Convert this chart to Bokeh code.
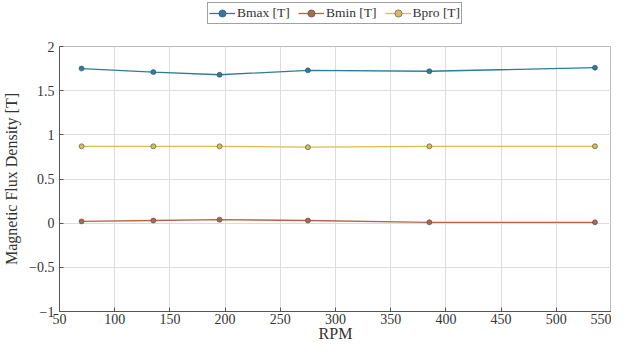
from bokeh.plotting import figure
from bokeh.models import Legend, LegendItem, FixedTicker, Range1d
from bokeh.layouts import column
from bokeh.embed import file_html
from bokeh.resources import INLINE

rpm = [70, 135, 195, 275, 385, 535]
bmax = [1.75, 1.71, 1.68, 1.73, 1.72, 1.76]
bmin = [0.02, 0.03, 0.04, 0.03, 0.01, 0.01]
bpro = [0.87, 0.87, 0.87, 0.86, 0.87, 0.87]
x_ticks = [50, 100, 150, 200, 250, 300, 350, 400, 450, 500, 550]
y_ticks = [-1, -0.5, 0, 0.5, 1, 1.5, 2]
names = ["Bmax [T]", "Bmin [T]", "Bpro [T]"]
colors = ["#2a7d9c", "#b8644a", "#dcbc4c"]

FONT = "Liberation Serif"

# legend strip
lf = figure(width=611, height=26, output_backend="svg", toolbar_location=None,
            x_range=Range1d(0, 1), y_range=Range1d(0, 1),
            x_axis_type=None, y_axis_type=None,
            min_border_left=0, min_border_right=0, min_border_top=0, min_border_bottom=0)
lf.grid.visible = False
lf.outline_line_color = None

p = figure(width=611, height=318, output_backend="svg", toolbar_location=None,
           x_range=Range1d(50, 550), y_range=Range1d(-1, 2),
           min_border_left=14, min_border_right=0, min_border_bottom=0, min_border_top=20)

items = []
for name, ys, c in zip(names, [bmax, bmin, bpro], colors):
    p.line(rpm, ys, line_color=c, line_width=1.3)
    p.scatter(rpm, ys, marker="circle", size=5, fill_color=c, line_color="#3a4a50", line_width=0.6)
    d1 = lf.line([-5, -4], [-5, -5], line_color=c, line_width=1.3)
    d2 = lf.scatter([-5], [-5], marker="circle", size=4, fill_color=c, line_color="#3a4a50", line_width=0.6)
    items.append(LegendItem(label=name, renderers=[d1, d2]))

legend = Legend(items=items, orientation="horizontal", location=(148, 2),
                label_text_font=FONT, label_text_font_size="13.5px", label_text_color="#333333",
                border_line_color="#444444", border_line_width=1.2, padding=1, spacing=8,
                glyph_width=26, glyph_height=18, label_height=18, margin=0,
                label_standoff=2, background_fill_alpha=1)
lf.add_layout(legend)

p.xaxis.ticker = FixedTicker(ticks=x_ticks)
p.yaxis.ticker = FixedTicker(ticks=y_ticks)
p.xaxis.axis_label = "RPM"
p.yaxis.axis_label = "Magnetic Flux Density [T]"
p.axis.axis_label_text_font = FONT
p.axis.axis_label_text_font_style = "normal"
p.axis.axis_label_text_font_size = "16px"
p.axis.axis_label_text_color = "#333333"
p.axis.major_label_text_font = FONT
p.axis.major_label_text_font_style = "normal"
p.axis.major_label_text_font_size = "14px"
p.axis.major_label_text_color = "#333333"
p.axis.axis_line_color = "#555555"
p.axis.major_tick_line_color = "#555555"
p.axis.minor_tick_line_color = None
p.axis.major_tick_in = 4
p.axis.major_tick_out = 0
p.xaxis.axis_label_standoff = -2
p.xaxis.major_label_standoff = 2
p.yaxis.axis_label_standoff = 6
p.yaxis.major_label_standoff = 5

p.grid.grid_line_color = "#dddddd"
p.outline_line_color = "#bbbbbb"

open("out.html", "w").write(file_html(column(lf, p), INLINE))
